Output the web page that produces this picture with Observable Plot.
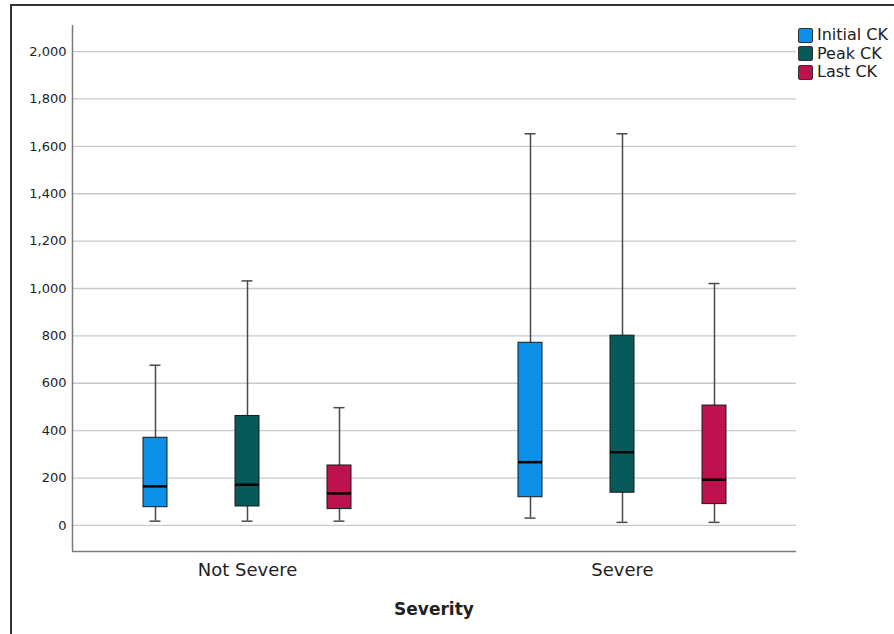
<!DOCTYPE html>
<html>
<head>
<meta charset="utf-8">
<script src="https://cdn.jsdelivr.net/npm/d3@7"></script>
<script src="https://cdn.jsdelivr.net/npm/@observablehq/plot@0.6"></script>
<style>
  html, body { margin: 0; padding: 0; background: #fff; }
  #wrap { position: relative; width: 894px; height: 634px; overflow: hidden; font-family: "DejaVu Sans", sans-serif; }
  #wrap svg { position: absolute; left: 0; top: 0; background: transparent; }
  #border { position: absolute; left: 10px; top: 4px; width: 900px; height: 700px; border-left: 2px solid #333; border-top: 2px solid #333; }
  #legend { position: absolute; left: 798px; top: 26px; font-size: 16px; color: #222; line-height: 18.5px; }
  .item { display: flex; align-items: center; height: 18.5px; }
  .sw { width: 13px; height: 13px; border: 1px solid #333; border-radius: 2px; margin-right: 4px; }
  #xlabel { position: absolute; left: 72px; width: 724px; top: 599px; text-align: center; font-weight: bold; font-size: 17px; color: #222; }
</style>
</head>
<body>
<div id="wrap">
  <div id="border"></div>
  <div id="legend"></div>
  <div id="xlabel">Severity</div>
</div>
<script>
// ---- data ----
const severities = ["Not Severe", "Severe"];
const measures = ["Initial CK", "Peak CK", "Last CK"];
const colors = ["#0a90e6", "#075a5a", "#c0114f"];
const yTicks = [0, 200, 400, 600, 800, 1000, 1200, 1400, 1600, 1800, 2000];

const groupOf     = ["Not Severe", "Not Severe", "Not Severe", "Severe", "Severe", "Severe"];
const measureOf   = ["Initial CK", "Peak CK", "Last CK", "Initial CK", "Peak CK", "Last CK"];
const whiskerLow  = [18, 18, 18, 31, 13, 13];
const q1          = [77, 80, 69, 119, 138, 90];
const median      = [165, 172, 135, 267, 309, 193];
const q3          = [370, 462, 253, 771, 801, 506];
const whiskerHigh = [676, 1032, 497, 1653, 1653, 1021];

const rows = groupOf.map((g, i) => ({
  severity: g, measure: measureOf[i],
  low: whiskerLow[i], q1: q1[i], median: median[i], q3: q3[i], high: whiskerHigh[i]
}));

const W = 894, H = 634;
const margins = {marginLeft: 72, marginRight: 98, marginTop: 25, marginBottom: 83};
const yDomain = [-110, 2110];

// ---- background: grid, y axis, axis lines ----
const bg = Plot.plot({
  width: W, height: H, ...margins,
  style: {fontFamily: "DejaVu Sans, sans-serif", fontSize: "13px", color: "#1e1e1e", background: "transparent"},
  x: {domain: [0, 1], axis: null},
  y: {domain: yDomain},
  marks: [
    Plot.ruleY(yTicks, {stroke: "#c9c9c9", strokeWidth: 1.3}),
    Plot.axisY(yTicks, {tickSize: 0, tickPadding: 6, tickFormat: d3.format(","), fontSize: 13, label: null}),
    Plot.ruleY([yDomain[0]], {stroke: "#7a7a7a", strokeWidth: 1.5}),
    Plot.ruleX([0], {y1: yDomain[0], y2: yDomain[1], stroke: "#7a7a7a", strokeWidth: 1.5})
  ]
});
bg.querySelectorAll("text").forEach(t => { t.style.fontSize = "13px"; });

// ---- foreground: boxes ----
const fg = Plot.plot({
  width: W, height: H, ...margins,
  style: {fontFamily: "DejaVu Sans, sans-serif", color: "#1e1e1e", background: "transparent"},
  fx: {domain: severities, paddingInner: 0.1, paddingOuter: 0.015},
  x: {domain: measures, paddingInner: 0.74, paddingOuter: 0.694, axis: null},
  y: {domain: yDomain, axis: null},
  color: {domain: measures, range: colors},
  marks: [
    Plot.axisFx({anchor: "bottom", tickSize: 0, tickPadding: 12, fontSize: 18, label: null}),
    Plot.ruleX(rows, {fx: "severity", x: "measure", y1: "low", y2: "high", stroke: "#4a4a4a", strokeWidth: 1.5}),
    Plot.tickY(rows, {fx: "severity", x: "measure", y: "high", stroke: "#4a4a4a", strokeWidth: 1.5, insetLeft: 6.5, insetRight: 6.5}),
    Plot.tickY(rows, {fx: "severity", x: "measure", y: "low", stroke: "#4a4a4a", strokeWidth: 1.5, insetLeft: 6.5, insetRight: 6.5}),
    Plot.barY(rows, {fx: "severity", x: "measure", y1: "q1", y2: "q3", fill: "measure", stroke: "#1a1a1a", strokeWidth: 1}),
    Plot.tickY(rows, {fx: "severity", x: "measure", y: "median", stroke: "#000", strokeWidth: 2.5})
  ]
});

const wrap = document.getElementById("wrap");
wrap.insertBefore(bg, wrap.firstChild);
wrap.insertBefore(fg, bg.nextSibling);

const legend = document.getElementById("legend");
measures.forEach((m, i) => {
  const item = document.createElement("div");
  item.className = "item";
  const sw = document.createElement("div");
  sw.className = "sw";
  sw.style.background = colors[i];
  const t = document.createElement("span");
  t.textContent = m;
  item.appendChild(sw);
  item.appendChild(t);
  legend.appendChild(item);
});
</script>
</body>
</html>
